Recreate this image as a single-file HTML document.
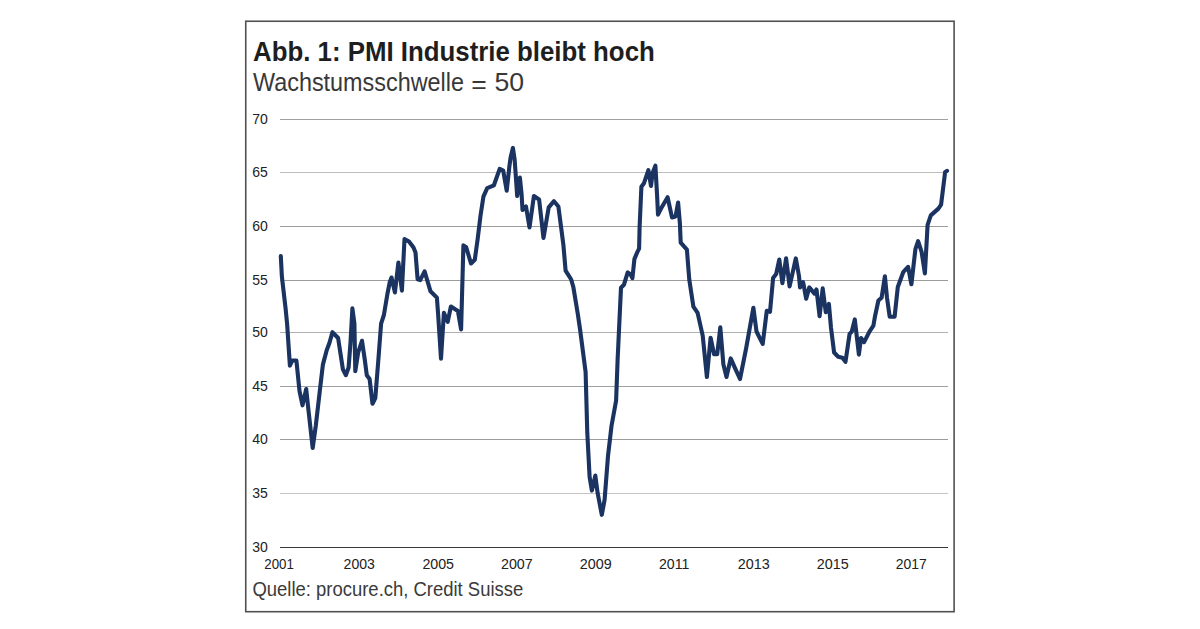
<!DOCTYPE html>
<html><head><meta charset="utf-8">
<style>
html,body{margin:0;padding:0;background:#fff;}
body{width:1200px;height:629px;overflow:hidden;}
svg{display:block;}
text{font-family:"Liberation Sans", sans-serif;}
</style></head>
<body>
<svg width="1200" height="629" viewBox="0 0 1200 629">
<rect x="0" y="0" width="1200" height="629" fill="#fff"/>
<rect x="245.75" y="21.25" width="708.35" height="590.45" fill="none" stroke="#505050" stroke-width="1.6"/>
<text x="253" y="60.8" font-size="27" font-weight="bold" fill="#1e1e1e" textLength="401.8" lengthAdjust="spacingAndGlyphs">Abb. 1: PMI Industrie bleibt hoch</text>
<g font-size="26" fill="#383838">
<text x="253" y="91.2" textLength="211" lengthAdjust="spacingAndGlyphs">Wachstumsschwelle</text>
<text x="471.2" y="93.4" textLength="15.5" lengthAdjust="spacingAndGlyphs">=</text>
<text x="494.4" y="91.0" font-size="26.5" textLength="29.6" lengthAdjust="spacingAndGlyphs">50</text>
</g>
<g stroke-width="1">
<line x1="280" y1="119.50" x2="948" y2="119.50" stroke="#a0a0a0" />
<line x1="280" y1="172.50" x2="948" y2="172.50" stroke="#bdbdbd" />
<line x1="280" y1="226.50" x2="948" y2="226.50" stroke="#9c9c9c" />
<line x1="280" y1="280.50" x2="948" y2="280.50" stroke="#9c9c9c" />
<line x1="280" y1="332.50" x2="948" y2="332.50" stroke="#b0b0b0" />
<line x1="280" y1="386.50" x2="948" y2="386.50" stroke="#a0a0a0" />
<line x1="280" y1="439.50" x2="948" y2="439.50" stroke="#9c9c9c" />
<line x1="280" y1="493.50" x2="948" y2="493.50" stroke="#c4c4c4" />
<line x1="280" y1="547.50" x2="948" y2="547.50" stroke="#383838" />
</g>
<g font-size="14.2" fill="#222">
<text x="252.3" y="123.60" textLength="15.6" lengthAdjust="spacingAndGlyphs">70</text>
<text x="252.3" y="176.60" textLength="15.6" lengthAdjust="spacingAndGlyphs">65</text>
<text x="252.3" y="230.60" textLength="15.6" lengthAdjust="spacingAndGlyphs">60</text>
<text x="252.3" y="284.60" textLength="15.6" lengthAdjust="spacingAndGlyphs">55</text>
<text x="252.3" y="336.60" textLength="15.6" lengthAdjust="spacingAndGlyphs">50</text>
<text x="252.3" y="390.60" textLength="15.6" lengthAdjust="spacingAndGlyphs">45</text>
<text x="252.3" y="443.60" textLength="15.6" lengthAdjust="spacingAndGlyphs">40</text>
<text x="252.3" y="497.60" textLength="15.6" lengthAdjust="spacingAndGlyphs">35</text>
<text x="252.3" y="551.60" textLength="15.6" lengthAdjust="spacingAndGlyphs">30</text>
<text x="264.30" y="568.8" textLength="29.60" lengthAdjust="spacingAndGlyphs">2001</text>
<text x="343.60" y="568.8" textLength="31.30" lengthAdjust="spacingAndGlyphs">2003</text>
<text x="422.40" y="568.8" textLength="31.60" lengthAdjust="spacingAndGlyphs">2005</text>
<text x="501.00" y="568.8" textLength="31.70" lengthAdjust="spacingAndGlyphs">2007</text>
<text x="579.80" y="568.8" textLength="31.90" lengthAdjust="spacingAndGlyphs">2009</text>
<text x="659.00" y="568.8" textLength="30.30" lengthAdjust="spacingAndGlyphs">2011</text>
<text x="737.80" y="568.8" textLength="31.90" lengthAdjust="spacingAndGlyphs">2013</text>
<text x="816.80" y="568.8" textLength="31.90" lengthAdjust="spacingAndGlyphs">2015</text>
<text x="895.80" y="568.8" textLength="30.90" lengthAdjust="spacingAndGlyphs">2017</text>
</g>
<text x="252.5" y="596.2" font-size="21" fill="#3a3a3a" textLength="270.7" lengthAdjust="spacingAndGlyphs">Quelle: procure.ch, Credit Suisse</text>
<path d="M280.8,256.1 L281.9,276.8 L285.6,308.6 L287.2,325.0 L288.2,340.4 L289.9,365.6 L292.3,360.5 L296.4,360.5 L299.5,391.0 L302.5,405.3 L306.2,389.0 L308.6,411.4 L312.7,448.0 L315.8,425.6 L319.8,391.0 L322.9,364.6 L326.7,350.3 L329.5,342.7 L332.4,332.2 L338.1,338.0 L342.9,369.4 L345.8,375.2 L348.6,367.5 L350.5,342.7 L352.4,308.4 L354.4,323.6 L355.3,371.3 L358.2,352.3 L362.0,340.8 L364.8,359.9 L366.8,375.2 L369.6,379.0 L372.5,403.8 L375.3,398.0 L378.2,361.8 L381.1,323.6 L383.9,315.0 L385.3,306.5 L387.5,293.5 L389.8,282.0 L391.5,277.5 L394.9,292.4 L398.4,262.6 L401.9,290.6 L404.5,239.0 L409.0,241.5 L413.5,247.5 L415.5,252.5 L417.6,279.2 L420.2,280.1 L424.6,271.4 L430.5,291.3 L436.9,297.6 L438.2,315.4 L441.0,358.7 L443.9,312.9 L447.7,321.8 L450.9,306.5 L457.9,311.0 L461.1,329.4 L463.4,245.4 L466.2,247.3 L471.0,263.5 L474.8,259.7 L477.7,238.7 L480.5,215.8 L483.4,196.7 L487.2,188.1 L493.9,185.3 L499.7,168.9 L503.2,170.6 L506.7,190.7 L509.4,166.2 L510.6,157.5 L512.9,147.9 L514.6,159.2 L517.2,196.0 L519.9,177.6 L521.6,194.2 L522.5,210.0 L526.0,206.5 L529.5,227.5 L533.9,196.0 L539.1,199.5 L543.5,238.0 L548.7,207.4 L554.0,201.2 L558.4,206.5 L563.4,245.0 L565.6,270.6 L571.2,279.5 L573.4,287.3 L577.8,314.0 L580.1,329.6 L585.6,372.0 L587.3,433.0 L589.6,476.8 L591.9,490.6 L595.3,475.6 L597.6,492.9 L601.8,514.8 L604.6,499.8 L608.0,456.0 L611.5,426.0 L616.1,400.7 L617.6,360.0 L619.1,327.8 L621.0,287.7 L623.9,284.8 L627.7,272.4 L630.5,274.4 L632.4,278.2 L634.4,259.1 L637.2,252.4 L639.1,248.6 L639.6,227.0 L641.4,186.7 L644.0,183.2 L648.4,170.1 L651.0,185.9 L652.7,172.7 L655.4,165.7 L657.1,195.5 L658.0,214.7 L661.5,207.7 L667.6,197.2 L672.0,217.4 L675.5,216.5 L678.1,202.5 L679.9,223.5 L680.7,242.7 L686.9,249.7 L689.3,279.8 L693.4,306.7 L697.6,312.9 L702.7,335.6 L706.9,377.0 L710.6,337.7 L714.1,354.3 L717.2,354.3 L720.3,327.4 L723.4,364.6 L726.5,377.0 L730.7,358.4 L734.8,367.7 L740.0,379.0 L746.2,348.0 L753.4,307.7 L756.5,331.5 L762.7,343.9 L766.8,310.8 L770.0,311.9 L773.1,278.1 L776.2,274.0 L779.3,259.5 L782.4,283.3 L786.1,258.4 L789.6,286.4 L795.8,258.4 L799.0,276.0 L800.0,287.4 L803.1,282.2 L806.2,298.8 L809.3,287.4 L814.5,293.6 L816.5,289.5 L819.6,316.3 L822.7,288.4 L825.8,312.2 L828.9,303.9 L831.0,327.7 L834.1,352.5 L838.2,356.7 L842.4,357.7 L845.5,361.8 L849.6,333.9 L851.7,331.8 L854.8,319.4 L858.9,354.6 L861.0,338.0 L864.1,342.2 L869.3,331.8 L873.4,325.6 L874.9,316.8 L878.4,300.5 L881.6,297.8 L884.9,276.2 L887.0,297.8 L889.7,316.8 L894.6,316.8 L897.8,287.0 L903.2,272.2 L908.1,266.8 L911.4,284.3 L915.4,249.2 L918.1,241.1 L921.6,251.9 L924.9,273.5 L927.6,224.9 L930.8,215.4 L938.4,208.6 L941.1,204.6 L945.1,172.2 L947.0,170.8" fill="none" stroke="#1b3360" stroke-width="4.1" stroke-linejoin="round" stroke-linecap="round"/>
</svg>
</body></html>
